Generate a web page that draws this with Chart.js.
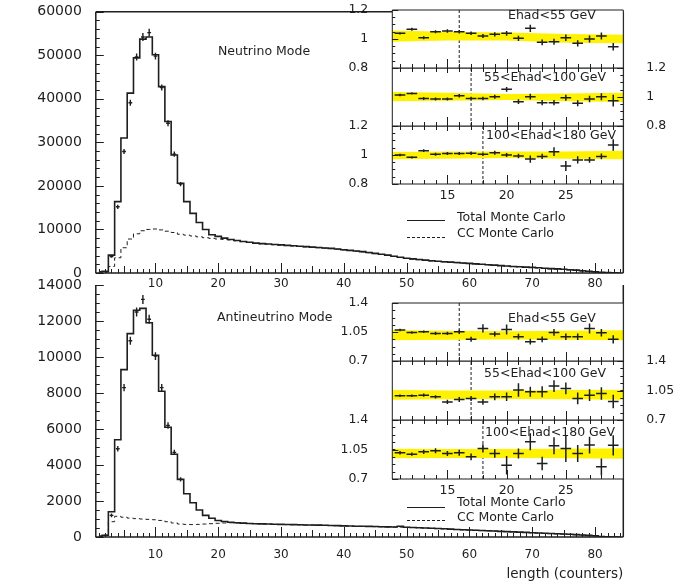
<!DOCTYPE html>
<html>
<head>
<meta charset="utf-8">
<script src="https://cdn.jsdelivr.net/npm/chart.js@4.4.1/dist/chart.umd.min.js"></script>
<style>
  html, body { margin: 0; padding: 0; background: #fff; }
  #stage { position: relative; width: 693px; height: 588px; overflow: hidden; font-family: "DejaVu Sans", sans-serif; color: #1c1f1e; }
  #stage canvas { position: absolute; }
  .txt { position: absolute; font-size: 12.5px; line-height: 14px; white-space: nowrap; z-index: 10; }
  .key { position: absolute; width: 38px; height: 0; border-top: 1px solid #1c1f1e; z-index: 10; }
  .key.dash { border-top-style: dashed; }
</style>
</head>
<body>
<div id="stage"></div>

<script>
// ---- data ----
const X_TICKS = [10, 20, 30, 40, 50, 60, 70, 80];
const NU_Y_TICKS = [0, 10000, 20000, 30000, 40000, 50000, 60000];
const NUBAR_Y_TICKS = [0, 2000, 4000, 6000, 8000, 10000, 12000, 14000];

// neutrino mode, bins 1..84
const NU_TOTAL = [
  300, 400, 4100, 16400, 31000, 41300, 49400, 53700, 54200, 50100,
  42800, 34800, 27100, 20600, 16400, 13700, 11600, 10000, 8800, 8400,
  8000, 7700, 7450, 7250, 7050, 6850, 6750, 6650, 6550, 6450,
  6350, 6250, 6150, 6050, 5950, 5850, 5750, 5650, 5500, 5350,
  5200, 5050, 4900, 4700, 4500, 4300, 4100, 3850, 3600, 3400,
  3250, 3100, 2950, 2800, 2700, 2600, 2500, 2400, 2300, 2200,
  2100, 2000, 1900, 1800, 1700, 1600, 1500, 1450, 1350, 1300,
  1200, 1100, 1000, 950, 850, 750, 650, 500, 400, 300,
  150, 80, 30, 0
];
const NU_CC = [
  0, 200, 1500, 3500, 5800, 7800, 9000, 9700, 10000, 10100,
  9900, 9600, 9300, 8900, 8700, 8500, 8300, 8100, 7950, 7800,
  7700, 7600, 7400, 7200, 7000, 6800, 6700, 6600, 6500, 6400,
  6300, 6200, 6100, 6000, 5900, 5800, 5700, 5600, 5450, 5300,
  5150, 5000, 4850, 4650, 4450, 4250, 4050, 3800, 3550, 3350,
  3200, 3050, 2900, 2750, 2650, 2550, 2450, 2350, 2250, 2150,
  2050, 1950, 1850, 1750, 1650, 1550, 1450, 1400, 1300, 1250,
  1150, 1050, 950, 900, 800, 700, 600, 450, 350, 250,
  120, 60, 20, 0
];
const NU_DATA_BINS = [3, 4, 5, 6, 7, 8, 9, 10, 11, 12, 13, 14];
const NU_DATA = [3800, 15200, 27900, 39100, 49600, 54200, 55200, 49800, 42600, 34400, 27300, 20400];
const NU_DATA_ERR = [300, 500, 600, 700, 800, 900, 900, 800, 700, 700, 600, 500];

// antineutrino mode, bins 1..84
const NUBAR_TOTAL = [
  50, 100, 1400, 5400, 9300, 11300, 12600, 12700, 11900, 10100,
  8100, 6100, 4600, 3200, 2400, 1900, 1500, 1200, 1040, 920,
  860, 820, 790, 770, 750, 740, 730, 720, 710, 700,
  695, 690, 680, 670, 665, 660, 650, 640, 630, 620,
  610, 600, 595, 590, 580, 570, 560, 555, 600, 540,
  530, 515, 500, 490, 470, 455, 440, 420, 405, 390,
  375, 360, 345, 330, 310, 300, 285, 270, 255, 240,
  225, 210, 195, 180, 165, 150, 130, 110, 90, 70,
  30, 10, 0, 0
];
const NUBAR_CC = [
  0, 100, 850, 1150, 1100, 1050, 1020, 1000, 980, 960,
  920, 850, 780, 720, 700, 690, 700, 720, 740, 760,
  780, 790, 780, 765, 745, 735, 725, 715, 705, 695,
  690, 685, 675, 665, 660, 655, 645, 635, 625, 615,
  605, 595, 590, 585, 575, 565, 555, 550, 545, 535,
  525, 510, 495, 485, 465, 450, 435, 415, 400, 385,
  370, 355, 340, 325, 305, 295, 280, 265, 250, 235,
  220, 205, 190, 175, 160, 145, 125, 105, 85, 65,
  25, 5, 0, 0
];
const NUBAR_DATA_BINS = [3, 4, 5, 6, 7, 8, 9, 10, 11, 12, 13, 14];
const NUBAR_DATA = [1200, 4900, 8300, 10900, 12500, 13200, 12100, 10050, 8300, 6200, 4700, 3200];
const NUBAR_DATA_ERR = [100, 150, 200, 220, 250, 250, 250, 220, 200, 180, 150, 120];

// data / MC ratio insets
const EHAD_LABELS = ['Ehad<55 GeV', '55<Ehad<100 GeV', '100<Ehad<180 GeV'];
const INSET_X = [11, 12, 13, 14, 15, 16, 17, 18, 19, 20, 21, 22, 23, 24, 25, 26, 27, 28, 29];
const INSET_X_TICKS = [15, 20, 25];
const CUT_LENGTH = [16, 17, 18];
const BAND_X = [10, 15, 20, 25, 30];
const NU_RATIO_TICKS = [0.8, 1, 1.2];
const NUBAR_RATIO_TICKS = [0.7, 1.05, 1.4];

const NU_LO = [1.039, 1.067, 1.009, 1.05, 1.055, 1.05, 1.039, 1.021, 1.032, 1.039, 1.005, 1.074, 0.977, 0.981, 1.009, 0.97, 1.0, 1.021, 0.947];
const NU_LO_ERR = [0.008, 0.01, 0.01, 0.01, 0.012, 0.012, 0.012, 0.014, 0.015, 0.016, 0.018, 0.025, 0.02, 0.02, 0.022, 0.022, 0.024, 0.024, 0.026];
const NU_MID = [1.014, 1.025, 0.99, 0.986, 0.986, 1.009, 0.99, 0.99, 1.002, 1.053, 0.968, 1.002, 0.961, 0.961, 0.995, 0.957, 0.986, 1.002, 0.975];
const NU_MID_ERR = [0.008, 0.008, 0.01, 0.01, 0.01, 0.012, 0.012, 0.012, 0.014, 0.016, 0.016, 0.02, 0.018, 0.018, 0.02, 0.02, 0.022, 0.024, 0.04];
const NU_HI = [1.0, 0.984, 1.03, 1.005, 1.01, 1.01, 1.012, 1.005, 1.016, 1.0, 0.993, 0.972, 0.99, 1.023, 0.924, 0.966, 0.966, 0.99, 1.069];
const NU_HI_ERR = [0.008, 0.008, 0.01, 0.01, 0.01, 0.01, 0.012, 0.012, 0.014, 0.014, 0.016, 0.025, 0.018, 0.03, 0.035, 0.025, 0.02, 0.02, 0.04];
const NU_LO_BAND_DN = [0.98, 0.99, 0.99, 0.975, 0.97];
const NU_LO_BAND_UP = [1.06, 1.05, 1.045, 1.035, 1.03];
const NU_MID_BAND_DN = [0.97, 0.975, 0.98, 0.97, 0.965];
const NU_MID_BAND_UP = [1.035, 1.03, 1.02, 1.025, 1.03];
const NU_HI_BAND_DN = [0.97, 0.975, 0.98, 0.975, 0.97];
const NU_HI_BAND_UP = [1.02, 1.025, 1.025, 1.025, 1.03];

const NUBAR_LO = [1.073, 1.045, 1.052, 1.033, 1.033, 1.052, 0.962, 1.093, 1.025, 1.081, 0.993, 0.933, 0.962, 1.045, 0.993, 0.993, 1.093, 1.04, 0.962];
const NUBAR_LO_ERR = [0.015, 0.015, 0.015, 0.02, 0.02, 0.025, 0.03, 0.05, 0.03, 0.06, 0.035, 0.035, 0.035, 0.04, 0.04, 0.04, 0.06, 0.045, 0.05];
const NUBAR_MID = [0.987, 0.987, 0.995, 0.975, 0.915, 0.944, 0.956, 0.915, 0.975, 0.975, 1.055, 1.035, 1.035, 1.102, 1.075, 0.956, 0.995, 1.015, 0.92];
const NUBAR_MID_ERR = [0.015, 0.015, 0.02, 0.02, 0.025, 0.03, 0.03, 0.035, 0.04, 0.05, 0.08, 0.06, 0.065, 0.07, 0.07, 0.07, 0.07, 0.075, 0.08];
const NUBAR_HI = [1.011, 0.995, 1.023, 1.035, 1.003, 1.011, 0.963, 1.063, 1.003, 0.864, 1.003, 1.142, 0.884, 1.094, 1.063, 1.003, 1.102, 0.844, 1.10];
const NUBAR_HI_ERR = [0.02, 0.02, 0.025, 0.03, 0.03, 0.035, 0.04, 0.05, 0.05, 0.11, 0.06, 0.1, 0.08, 0.1, 0.16, 0.1, 0.1, 0.1, 0.12];
const NUBAR_LO_BAND_DN = [0.95, 0.955, 0.96, 0.955, 0.95];
const NUBAR_LO_BAND_UP = [1.075, 1.065, 1.06, 1.065, 1.07];
const NUBAR_MID_BAND_DN = [0.94, 0.945, 0.95, 0.945, 0.94];
const NUBAR_MID_BAND_UP = [1.055, 1.05, 1.05, 1.055, 1.06];
const NUBAR_HI_BAND_DN = [0.945, 0.95, 0.95, 0.945, 0.94];
const NUBAR_HI_BAND_UP = [1.06, 1.055, 1.055, 1.06, 1.065];

// ---- look ----
const INK = '#1c1f1e';
const YELLOW = '#fff200';
const FONT = 'DejaVu Sans';
Chart.defaults.font.family = FONT;
Chart.defaults.color = INK;

const stage = document.getElementById('stage');

function addCanvas(id, left, top, w, h, z) {
  const c = document.createElement('canvas');
  c.id = id; c.width = w; c.height = h;
  c.style.left = left + 'px'; c.style.top = top + 'px'; c.style.zIndex = z;
  stage.appendChild(c);
  return c;
}

function addText(text, left, top) {
  const d = document.createElement('div');
  d.className = 'txt'; d.textContent = text;
  d.style.left = left + 'px'; d.style.top = top + 'px';
  stage.appendChild(d);
}

function addKey(left, top, dashed) {
  const d = document.createElement('div');
  d.className = dashed ? 'key dash' : 'key';
  d.style.left = left + 'px'; d.style.top = top + 'px';
  stage.appendChild(d);
}

// paper fill, error crosses, PAW-like inner ticks and frame
const decor = {
  id: 'decor',
  beforeDraw(chart, args, o) {
    if (!o.paper) return;
    const a = chart.chartArea, ctx = chart.ctx;
    ctx.save();
    ctx.fillStyle = o.paper;
    ctx.fillRect(a.left, a.top, a.right - a.left, a.bottom - a.top);
    ctx.restore();
  },
  afterDatasetsDraw(chart, args, o) {
    const ctx = chart.ctx, a = chart.chartArea;
    const xs = chart.scales.x, ys = chart.scales.y;
    ctx.save();
    ctx.beginPath();
    ctx.rect(a.left, a.top, a.right - a.left, a.bottom - a.top);
    ctx.clip();
    ctx.strokeStyle = INK;
    chart.data.datasets.forEach(ds => {
      if (!ds.errors) return;
      ctx.lineWidth = ds.crossWidth;
      ds.data.forEach((p, j) => {
        const e = ds.errors[j];
        const xc = xs.getPixelForValue(p.x), yc = ys.getPixelForValue(p.y);
        ctx.beginPath();
        ctx.moveTo(xs.getPixelForValue(p.x - ds.halfBin), yc);
        ctx.lineTo(xs.getPixelForValue(p.x + ds.halfBin), yc);
        ctx.moveTo(xc, ys.getPixelForValue(p.y - e));
        ctx.lineTo(xc, ys.getPixelForValue(p.y + e));
        ctx.stroke();
      });
    });
    ctx.restore();

    ctx.save();
    ctx.strokeStyle = INK;
    ctx.lineWidth = 1;
    (o.marks || []).forEach(m => {
      const s = chart.scales[m.axis];
      for (let v = m.from; v <= m.to + m.step * 1e-6; v += m.step) {
        const p = Math.round(s.getPixelForValue(v)) + 0.5;
        ctx.beginPath();
        if (m.edge === 'left') { ctx.moveTo(a.left, p); ctx.lineTo(a.left + m.len, p); }
        else if (m.edge === 'right') { ctx.moveTo(a.right, p); ctx.lineTo(a.right - m.len, p); }
        else { ctx.moveTo(p, a.bottom + (m.out || 0)); ctx.lineTo(p, a.bottom - m.len); }
        ctx.stroke();
      }
    });
    const sides = o.sides || 'tlbr';
    ctx.lineWidth = o.frameWidth || 1;
    ctx.beginPath();
    if (sides.includes('t')) { ctx.moveTo(a.left, a.top); ctx.lineTo(a.right, a.top); }
    if (sides.includes('b')) { ctx.moveTo(a.left, a.bottom); ctx.lineTo(a.right, a.bottom); }
    if (sides.includes('l')) { ctx.moveTo(a.left, a.top); ctx.lineTo(a.left, a.bottom); }
    if (sides.includes('r')) { ctx.moveTo(a.right, a.top); ctx.lineTo(a.right, a.bottom); }
    ctx.stroke();
    ctx.restore();
  }
};
Chart.register(decor);

const asTicks = list => scale => { scale.ticks = list.map(v => ({ value: v })); };

// fixed axis box, no label overhang padding
function fixWidth(w) {
  return s => { s.width = w; s.paddingTop = 0; s.paddingBottom = 0; };
}
function fixHeight(h) {
  return s => { s.height = h; s.paddingLeft = 0; s.paddingRight = 0; };
}

function histChart(canvas, geo, total, cc, dataBins, dataVals, dataErr, yTicks, yMinor, sides, withTitle) {
  const bins = total.map((_, i) => i + 1);
  const yMax = yTicks[yTicks.length - 1];
  return new Chart(canvas, {
    type: 'line',
    data: {
      datasets: [
        { label: 'Total Monte Carlo', data: bins.map((b, i) => ({ x: b, y: total[i] })),
          stepped: 'middle', borderColor: INK, borderWidth: 1.6, pointRadius: 0 },
        { label: 'CC Monte Carlo', data: bins.map((b, i) => ({ x: b, y: cc[i] })),
          stepped: 'middle', borderColor: INK, borderWidth: 1, borderDash: [4, 3], pointRadius: 0 },
        { label: 'Data', data: dataBins.map((b, i) => ({ x: b, y: dataVals[i] })),
          showLine: false, pointRadius: 0, errors: dataErr, halfBin: 0.3, crossWidth: 1.4 }
      ]
    },
    options: {
      responsive: false,
      animation: false,
      events: [],
      layout: { autoPadding: false, padding: { top: geo.padTop, right: 693 - 623.3, bottom: 0, left: 0 } },
      plugins: {
        legend: { display: false },
        tooltip: { enabled: false },
        decor: {
          sides: sides, frameWidth: 1.5,
          marks: [
            { axis: 'y', edge: 'left', from: 0, to: yMax, step: yMinor, len: 4 },
            { axis: 'y', edge: 'left', from: 0, to: yMax, step: yTicks[1], len: 8 },
            { axis: 'x', edge: 'bottom', from: 1, to: 84, step: 1, len: 4 },
            { axis: 'x', edge: 'bottom', from: 5, to: 80, step: 5, len: 7 },
            { axis: 'x', edge: 'bottom', from: 10, to: 80, step: 10, len: 10 }
          ]
        }
      },
      scales: {
        x: {
          type: 'linear', min: 0.5, max: 84.5,
          afterBuildTicks: asTicks(X_TICKS),
          afterFit: fixHeight(geo.xH),
          grid: { display: false }, border: { display: false },
          ticks: { font: { size: 12 }, color: INK, padding: geo.xPad, maxRotation: 0, autoSkip: false, callback: v => String(v) },
          title: withTitle
            ? { display: true, text: 'length (counters)', align: 'end', font: { size: 13.5 }, color: INK, padding: { top: 0, bottom: 5 } }
            : { display: false }
        },
        y: {
          min: 0, max: yMax,
          afterBuildTicks: asTicks(yTicks),
          afterFit: fixWidth(95.8),
          grid: { display: false }, border: { display: false },
          ticks: { font: { size: 14 }, color: INK, padding: 6, callback: v => String(v) }
        }
      }
    }
  });
}

function ratioPanel(canvas, side, yTicks, vals, errs, bandDn, bandUp, cut, showX) {
  const yMin = yTicks[0], yMax = yTicks[2];
  const leftW = 392.3 - 340, rightW = 693 - 623.3;
  const yStep = (yMax - yMin) / 8;
  const marks = [
    { axis: 'y', edge: side, from: yMin, to: yMax, step: yStep, len: 3 },
    { axis: 'y', edge: side, from: yMin, to: yMax, step: yStep * 4, len: 6 },
    { axis: 'x', edge: 'bottom', from: 11, to: 29, step: 1, len: 4, out: showX ? 0 : 4 },
    { axis: 'x', edge: 'bottom', from: 15, to: 25, step: 5, len: 9, out: showX ? 0 : 5 }
  ];
  return new Chart(canvas, {
    type: 'line',
    data: {
      datasets: [
        { data: BAND_X.map((x, i) => ({ x, y: bandDn[i] })), borderWidth: 0, pointRadius: 0, fill: false },
        { data: BAND_X.map((x, i) => ({ x, y: bandUp[i] })), borderWidth: 0, pointRadius: 0, fill: '-1', backgroundColor: YELLOW },
        { data: [{ x: cut, y: yMin }, { x: cut, y: yMax }], borderColor: INK, borderWidth: 1, borderDash: [3, 2], pointRadius: 0 },
        { data: INSET_X.map((x, i) => ({ x, y: vals[i] })), showLine: false, pointRadius: 0,
          errors: errs, halfBin: 0.45, crossWidth: 1.5 }
      ]
    },
    options: {
      responsive: false,
      animation: false,
      events: [],
      layout: {
        autoPadding: false,
        padding: { top: 10, bottom: showX ? 0 : 10, left: side === 'left' ? 0 : leftW, right: side === 'left' ? rightW : 0 }
      },
      plugins: {
        legend: { display: false },
        tooltip: { enabled: false },
        decor: { paper: '#ffffff', sides: 'tlbr', frameWidth: 1, marks: marks }
      },
      scales: {
        x: {
          type: 'linear', min: 10.35, max: 29.85, display: showX,
          afterBuildTicks: asTicks(INSET_X_TICKS),
          afterFit: fixHeight(showX ? 26 : 0),
          grid: { display: false }, border: { display: false },
          ticks: { font: { size: 12.5 }, color: INK, padding: -4, maxRotation: 0, autoSkip: false }
        },
        y: {
          position: side, min: yMin, max: yMax,
          afterBuildTicks: asTicks(yTicks),
          afterFit: fixWidth(side === 'left' ? leftW : rightW),
          grid: { display: false }, border: { display: false },
          ticks: { font: { size: 12.5 }, color: INK, padding: side === 'left' ? 16 : 15, callback: v => String(v) }
        }
      }
    }
  });
}

function ratioInset(prefix, edges, yTicks, sets) {
  const sidesOf = ['left', 'right', 'left'];
  sets.forEach((s, k) => {
    const top = edges[k], bottom = edges[k + 1];
    const showX = k === 2;
    const h = (bottom - top) + 10 + (showX ? 26 : 10);
    const c = addCanvas(prefix + k, 340, top - 10, 353, h, 6 - k);
    ratioPanel(c, sidesOf[k], yTicks, s[0], s[1], s[2], s[3], CUT_LENGTH[k], showX);
  });
}

// main panels
histChart(addCanvas('nuMain', 0, 0, 693, 292, 1),
  { padTop: 11.7, xH: 292 - 273, xPad: -4 },
  NU_TOTAL, NU_CC, NU_DATA_BINS, NU_DATA, NU_DATA_ERR, NU_Y_TICKS, 2000, 'tlbr', false);

histChart(addCanvas('nubarMain', 0, 278, 693, 310, 1),
  { padTop: 7, xH: 588 - 537, xPad: 3 },
  NUBAR_TOTAL, NUBAR_CC, NUBAR_DATA_BINS, NUBAR_DATA, NUBAR_DATA_ERR, NUBAR_Y_TICKS, 500, 'lbr', true);

// ratio insets
ratioInset('nuRatio', [10, 68, 126, 184], NU_RATIO_TICKS, [
  [NU_LO, NU_LO_ERR, NU_LO_BAND_DN, NU_LO_BAND_UP],
  [NU_MID, NU_MID_ERR, NU_MID_BAND_DN, NU_MID_BAND_UP],
  [NU_HI, NU_HI_ERR, NU_HI_BAND_DN, NU_HI_BAND_UP]
]);
ratioInset('nubarRatio', [303, 361, 420, 479], NUBAR_RATIO_TICKS, [
  [NUBAR_LO, NUBAR_LO_ERR, NUBAR_LO_BAND_DN, NUBAR_LO_BAND_UP],
  [NUBAR_MID, NUBAR_MID_ERR, NUBAR_MID_BAND_DN, NUBAR_MID_BAND_UP],
  [NUBAR_HI, NUBAR_HI_ERR, NUBAR_HI_BAND_DN, NUBAR_HI_BAND_UP]
]);

// labels
addText('Neutrino Mode', 218, 44);
addText('Antineutrino Mode', 217, 310);
addText(EHAD_LABELS[0], 508, 8);
addText(EHAD_LABELS[1], 484, 70);
addText(EHAD_LABELS[2], 486, 128);
addText(EHAD_LABELS[0], 508, 311);
addText(EHAD_LABELS[1], 484, 366);
addText(EHAD_LABELS[2], 485, 425);

addKey(407, 220, false); addText('Total Monte Carlo', 457, 210);
addKey(407, 237, true);  addText('CC Monte Carlo', 457, 226);
addKey(407, 507, false); addText('Total Monte Carlo', 457, 495);
addKey(407, 520, true);  addText('CC Monte Carlo', 457, 510);
</script>
</body>
</html>
